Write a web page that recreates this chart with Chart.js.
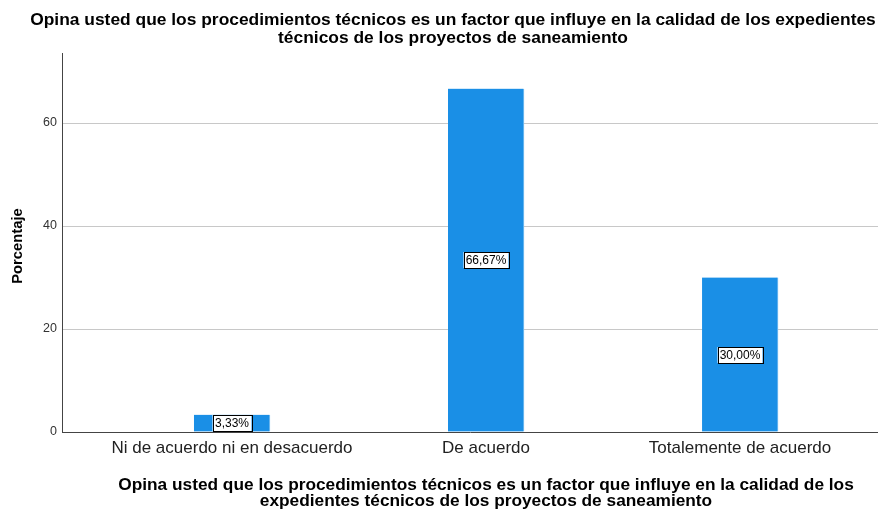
<!DOCTYPE html>
<html><head><meta charset="utf-8">
<script src="https://cdn.jsdelivr.net/npm/chart.js@4.4.0/dist/chart.umd.min.js"></script>
<style>html,body{margin:0;padding:0;background:#fff;}#wrap{width:878px;height:510px;}</style>
</head><body><div id="wrap"><canvas id="c" width="878" height="510"></canvas></div>
<script>
const categories = ["Ni de acuerdo ni en desacuerdo", "De acuerdo", "Totalemente de acuerdo"];
const percentages = [3.33, 66.67, 30.00];
const yTicks = [0, 20, 40, 60];
const titleLines = ["Opina usted que los procedimientos técnicos es un factor que influye en la calidad de los expedientes", "técnicos de los proyectos de saneamiento"];
const xTitleLines = ["Opina usted que los procedimientos técnicos es un factor que influye en la calidad de los", "expedientes técnicos de los proyectos de saneamiento"];
const yTitle = "Porcentaje";

const FONT = "'Liberation Sans', Arial, sans-serif";

const textPlugin = {
  id: 'texts',
  afterDraw(chart) {
    const ctx = chart.ctx;
    ctx.save();
    ctx.fillStyle = '#000';
    ctx.textAlign = 'center';
    ctx.textBaseline = 'middle';
    ctx.font = 'bold 17.4px ' + FONT;
    ctx.fillText(titleLines[0], 453, 20);
    ctx.fillText(titleLines[1], 453, 38);
    ctx.font = 'bold 17.3px ' + FONT;
    ctx.fillText(xTitleLines[0], 486, 485);
    ctx.fillText(xTitleLines[1], 486, 501);
    ctx.translate(18, 246);
    ctx.rotate(-Math.PI / 2);
    ctx.font = 'bold 14.8px ' + FONT;
    ctx.fillText(yTitle, 0, 0);
    ctx.restore();
  }
};

const labelPlugin = {
  id: 'barLabels',
  afterDatasetsDraw(chart) {
    const ctx = chart.ctx;
    const meta = chart.getDatasetMeta(0);
    ctx.save();
    ctx.font = '12px ' + FONT;
    ctx.textAlign = 'center';
    ctx.textBaseline = 'middle';
    meta.data.forEach((el, i) => {
      const txt = percentages[i].toFixed(2).replace('.', ',') + '%';
      const cx = Math.round(el.x);
      const cy = Math.round((el.y + el.base) / 2);
      const w = Math.ceil(ctx.measureText(txt).width) + 4;
      const h = 16;
      ctx.fillStyle = '#fff';
      ctx.fillRect(cx - w / 2, cy - h / 2, w, h);
      ctx.strokeStyle = '#000';
      ctx.lineWidth = 1;
      ctx.strokeRect(Math.round(cx - w / 2) + 0.5, Math.round(cy - h / 2) + 0.5, w, h);
      ctx.fillStyle = '#000';
      ctx.fillText(txt, cx, cy + 1);
    });
    ctx.restore();
  }
};

new Chart(document.getElementById('c'), {
  type: 'bar',
  data: {
    datasets: [{
      data: percentages.map((v, i) => ({ x: i, y: v })),
      backgroundColor: '#1a8fe6',
      borderColor: '#8cc6f2',
      borderWidth: { top: 0, bottom: 0, left: 0, right: 1 },
      borderSkipped: false,
      barThickness: 76
    }]
  },
  options: {
    responsive: false,
    animation: false,
    devicePixelRatio: 1,
    layout: { padding: { top: 53, left: 0, right: 0, bottom: 0 } },
    plugins: { legend: { display: false }, tooltip: { enabled: false }, title: { display: false } },
    scales: {
      x: {
        type: 'linear',
        min: -0.669,
        max: 2.543,
        offset: false,
        afterBuildTicks(scale) { scale.ticks = categories.map((c, i) => ({ value: i })); },
        afterFit(scale) { scale.height = 78; },
        ticks: {
          callback: (v) => categories[v],
          font: { family: FONT, size: 17 },
          color: '#222',
          padding: 6,
          maxRotation: 0,
          autoSkip: false
        },
        grid: { display: false, drawTicks: false },
        border: { display: true, color: '#444', width: 1 }
      },
      y: {
        min: 0,
        max: 73.6,
        afterBuildTicks(scale) { scale.ticks = yTicks.map(v => ({ value: v })); },
        afterFit(scale) { scale.width = 62; },
        ticks: {
          font: { family: FONT, size: 12.5 },
          color: '#333',
          padding: 5
        },
        grid: {
          drawTicks: false,
          color: (c) => c.tick && c.tick.value === 0 ? 'rgba(0,0,0,0)' : '#c8c8c8'
        },
        border: { display: true, color: '#444', width: 1 }
      }
    }
  },
  plugins: [textPlugin, labelPlugin]
});
</script>
</body></html>
